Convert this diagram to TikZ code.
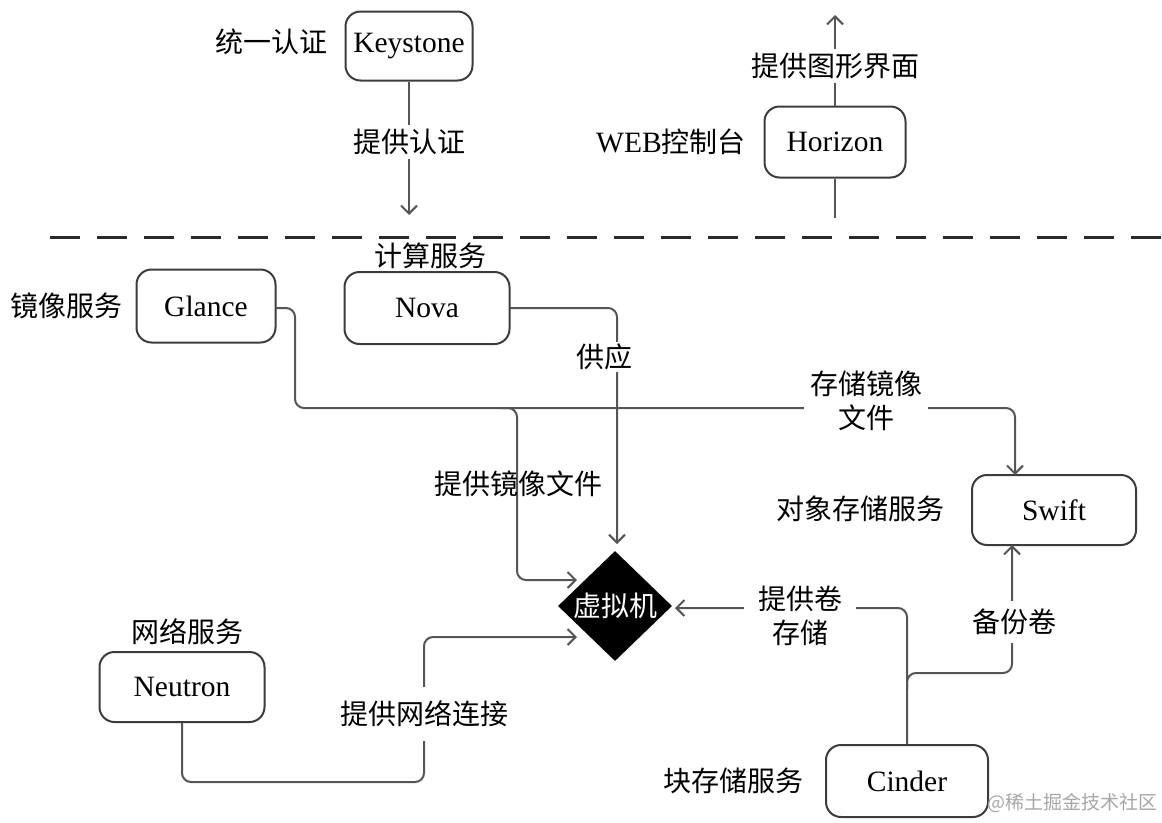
\documentclass[tikz,border=0pt]{standalone}
\usepackage{fontspec}
\setmainfont{Liberation Serif}
\newfontfamily\cjk{Noto Sans CJK SC}
\usetikzlibrary{arrows.meta,shapes.geometric}
\definecolor{boxc}{HTML}{3C3C3C}
\definecolor{linec}{HTML}{555555}
\definecolor{dashc}{HTML}{2A2A2A}
\tikzset{
  box/.style={draw=boxc, line width=2pt, rounded corners=15pt, inner sep=0pt,
    font=\fontsize{29.5}{34}\selectfont},
  conn/.style={draw=linec, line width=2pt, rounded corners=9pt},
  arr/.style={-{Straight Barb[length=8pt,width=16pt]}},
  lab/.style={font=\fontsize{28}{34}\selectfont\cjk, inner sep=1pt, align=center},
  gaplab/.style={lab, fill=white, inner sep=4pt},
}
\begin{document}
\begin{tikzpicture}[x=1pt,y=-1pt]
\useasboundingbox (0,0) rectangle (1162,822);

% boxes
\node[box, minimum width=127, minimum height=69] (keystone) at (409,46) {Keystone};
\node[box, minimum width=141, minimum height=71] (horizon) at (835,142) {Horizon};
\node[box, minimum width=139, minimum height=73] (glance) at (206,306) {Glance};
\node[box, minimum width=165, minimum height=72] (nova) at (427,308) {Nova};
\node[box, minimum width=164, minimum height=70] (swift) at (1054,510) {Swift};
\node[box, minimum width=165, minimum height=70] (neutron) at (182,687) {Neutron};
\node[box, minimum width=162, minimum height=72] (cinder) at (907,781) {Cinder};
\node[diamond, fill=black, minimum width=114, minimum height=110, inner sep=0pt] (vm) at (615,606) {};
\node[lab, text=white] (vmt) at (vm.center) {虚拟机};

% side labels
\node[lab] (l1) at (271,42) {统一认证};
\node[lab] (l2) at (671,142) {{\fontspec{Liberation Serif}\fontsize{29.5}{34}\selectfont WEB}控制台};
\node[lab] (l3) at (66,306) {镜像服务};
\node[lab] (l4) at (430,256) {计算服务};
\node[lab] (l5) at (860,509) {对象存储服务};
\node[lab] (l6) at (187,632) {网络服务};
\node[lab] (l7) at (733,781) {块存储服务};

% dashed separator
\coordinate (dA) at (50,237);
\coordinate (dB) at (1162,237);
\draw[draw=dashc, line width=3pt, dash pattern=on 30pt off 17pt] (dA) -- (dB);

% coordinates for free ends
\coordinate (kend) at (409,215);
\coordinate (hend) at (835,15);
\coordinate (hbot) at (835,218);
\coordinate (vmtop) at (617,544);
\coordinate (vmleftA) at (577,580);
\coordinate (vmleftB) at (577,637);
\coordinate (vmright) at (675,608);
\coordinate (swin) at (1015,475);
\coordinate (swout) at (1012,545);
\coordinate (gstart) at (276,308);
\coordinate (nstart) at (510,308);
\coordinate (split) at (500,408);
\coordinate (csplit) at (907,690);

% Keystone
\draw[conn, arr] (keystone.south) -- (kend);
\node[gaplab] at (409,142) {提供认证};

% Horizon
\draw[conn, arr] (horizon.north) -- (hend);
\draw[conn] (horizon.south) -- (hbot);
\node[gaplab] at (835,66) {提供图形界面};

% Nova -> vm
\draw[conn, arr] (nstart) -| (vmtop);
\node[gaplab, inner sep=2pt] at (604,357) {供应};

% Glance -> Swift
\draw[conn, arr] (gstart) -- (295,308) |- (swin |- 0,408) -- (swin);
\node[gaplab, inner sep=2pt, inner xsep=6pt] at (866,401) {存储镜像\\文件};

% Glance branch -> vm
\draw[conn, arr] (split) -| (517,580) -- (vmleftA);
\node[lab] at (518,484) {提供镜像文件};

% Neutron -> vm
\draw[conn, arr] (neutron.south) |- (424,782) |- (vmleftB);
\node[gaplab, inner ysep=14pt] at (424,714) {提供网络连接};

% Cinder -> vm
\draw[conn, arr] (cinder.north) |- (vmright);
\node[gaplab, inner xsep=14pt] at (800,616) {提供卷\\存储};

% Cinder -> Swift
\draw[conn, arr] (csplit) |- (1012,673) -- (swout);
\node[gaplab, inner ysep=8pt] at (1014,622) {备份卷};

% watermark
\node[font=\fontsize{19}{23}\selectfont\cjk, text=black!35, inner sep=0pt, anchor=east] (wm) at (1158,803) {@稀土掘金技术社区};
\end{tikzpicture}
\end{document}
